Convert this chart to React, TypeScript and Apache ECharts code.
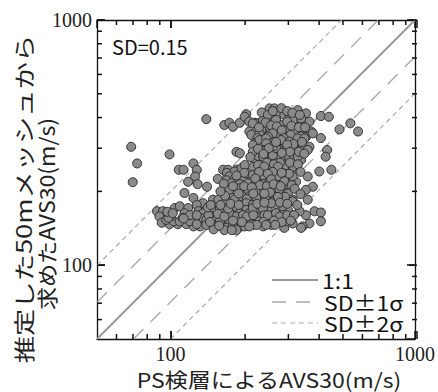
import React, { useEffect, useRef } from "react";
import * as echarts from "echarts";

// ---- data (PS logging AVS30, estimated AVS30) ----
const leftGroup: [number, number][] = [
  [69, 304], [73, 260], [70, 218], [99, 283], [108, 245], [113, 245], [114, 197],
  [124, 260], [128, 245], [126, 230], [118, 219], [129, 214], [141, 209], [124, 188],
];

const upperGroup: [number, number][] = [
  [140, 394], [166, 373], [174, 381], [180, 367], [192, 381], [204, 413], [201, 403],
  [210, 385], [221, 381], [228, 379], [239, 391], [254, 436], [266, 436], [279, 416],
  [292, 410], [306, 403], [331, 429], [358, 416], [326, 379], [347, 379], [370, 385],
  [258, 397], [270, 391], [246, 362], [288, 373], [316, 391], [217, 379], [342, 397],
  [210, 351], [221, 345], [235, 356], [258, 351], [279, 345], [297, 356], [321, 351],
  [347, 351], [358, 334], [376, 351], [214, 340], [382, 345], [231, 345], [297, 334],
  [270, 340], [321, 345], [236, 420], [250, 410], [262, 425], [284, 437], [300, 425],
  [315, 418], [338, 410], [245, 382], [258, 372], [272, 368], [300, 385], [312, 370],
  [335, 365], [355, 365], [230, 365], [262, 345], [285, 355], [310, 340], [340, 335],
  [250, 335], [227, 330], [290, 330],
];

const rightGroup: [number, number][] = [
  [412, 406], [444, 403], [491, 358], [544, 379], [585, 351], [412, 330], [437, 295],
  [431, 277], [406, 241], [455, 245], [382, 209], [388, 166], [412, 164], [412, 151],
  [370, 148], [358, 160], [364, 185], [358, 203], [364, 230],
];

const middleGroup: [number, number][] = [
  [221, 314], [231, 324], [246, 329], [258, 314], [279, 319], [306, 319], [331, 329],
  [353, 329], [217, 309], [239, 304], [288, 304], [337, 309], [246, 314], [283, 324],
  [370, 304], [186, 290], [192, 286], [224, 290], [242, 295], [258, 290], [279, 295],
  [297, 295], [326, 295], [347, 300], [364, 295], [221, 269], [235, 269], [254, 269],
  [270, 269], [297, 269], [316, 269], [342, 269], [228, 279], [283, 277], [331, 277],
  [217, 290], [239, 277], [262, 281], [306, 277], [270, 300], [316, 300], [246, 295],
  [164, 245], [172, 245], [186, 245], [195, 245], [210, 245], [221, 245], [235, 245],
  [246, 245], [266, 245], [288, 245], [306, 245], [326, 245], [170, 238], [183, 241],
  [195, 249], [217, 252], [201, 256], [258, 256], [297, 256], [316, 252], [318, 312],
  [300, 310], [262, 305], [228, 298], [345, 318], [270, 318], [252, 300], [308, 290],
  [335, 290], [285, 287], [240, 284], [212, 276], [248, 262], [280, 262], [308, 262],
  [265, 258], [228, 256], [242, 252], [275, 252], [332, 258], [352, 285],
];

const lowerMiddleGroup: [number, number][] = [
  [207, 230], [228, 237], [174, 230], [169, 222], [183, 226], [198, 222], [214, 222],
  [231, 226], [250, 226], [266, 222], [283, 226], [306, 222], [326, 219], [177, 216],
  [192, 214], [207, 216], [242, 216], [297, 214], [239, 233], [258, 233], [275, 230],
  [217, 233], [297, 233], [316, 230], [224, 219], [254, 219], [275, 212], [156, 225],
  [174, 203], [192, 206], [207, 203], [228, 200], [250, 204], [266, 206], [288, 200],
  [239, 206], [279, 203], [302, 196], [180, 188], [210, 191], [231, 185], [262, 191],
  [288, 186], [316, 185], [183, 185], [196, 191], [246, 191], [224, 188], [270, 185],
  [149, 185], [157, 185], [169, 182], [262, 182], [316, 182], [305, 236], [285, 238],
  [262, 240], [250, 236], [230, 240], [200, 238], [186, 232], [340, 240], [222, 226],
  [258, 224], [292, 220], [313, 212], [232, 212], [248, 210], [264, 214], [282, 210],
  [200, 210], [215, 208], [180, 210], [165, 215], [322, 205], [340, 195], [255, 198],
  [242, 196], [294, 190], [275, 190], [205, 186], [190, 196], [167, 192], [160, 200],
  [218, 196],
];

const bottomBand: [number, number][] = [
  [204, 179], [136, 179], [104, 171], [109, 174], [118, 171], [128, 176], [130, 166],
  [140, 168], [151, 168], [166, 168], [186, 168], [204, 168], [231, 168], [250, 168],
  [275, 174], [302, 168], [337, 166], [88, 166], [93, 166], [90, 158], [217, 176],
  [159, 171], [180, 171], [210, 163], [288, 163], [114, 163], [136, 163], [149, 158],
  [180, 160], [231, 158], [262, 160], [288, 174], [217, 171], [192, 163], [239, 171],
  [258, 179], [92, 149], [99, 147], [107, 147], [116, 147], [96, 153], [103, 151],
  [109, 151], [124, 153], [132, 151], [136, 155], [140, 153], [151, 151], [164, 155],
  [159, 151], [174, 153], [174, 163], [186, 158], [192, 151], [195, 144], [201, 144],
  [204, 151], [214, 151], [224, 158], [231, 151], [250, 151], [275, 151], [292, 142],
  [347, 144], [124, 144], [132, 144], [140, 146], [154, 144], [169, 142], [180, 144],
  [217, 146], [239, 144], [258, 146], [316, 148], [297, 151], [166, 139], [186, 139],
  [120, 151], [128, 147], [342, 142], [100, 158], [112, 156], [120, 160], [128, 160],
  [143, 160], [156, 162], [166, 158], [172, 170], [198, 160], [205, 158], [218, 160],
  [242, 160], [250, 160], [270, 163], [280, 158], [300, 160], [320, 160], [240, 150],
  [265, 152], [285, 150], [310, 152], [225, 146], [246, 146], [268, 146], [150, 140],
  [178, 139], [196, 150], [210, 144], [145, 150], [113, 155], [98, 156], [97, 165],
  [102, 163], [158, 145], [180, 152], [142, 172], [160, 176], [176, 178], [190, 176],
  [146, 176], [226, 178], [242, 180], [280, 180], [300, 178], [330, 176],
];

// reference lines (1:1, SD = 0.15 -> ±1σ factor 1.4125, ±2σ factor 1.995)
const line11: [number, number][] = [[50, 50], [1000, 1000]];
const sd1Upper: [number, number][] = [[50, 70.6], [708, 1000]];
const sd1Lower: [number, number][] = [[70.6, 50], [1000, 708]];
const sd2Upper: [number, number][] = [[50, 99.8], [501, 1000]];
const sd2Lower: [number, number][] = [[99.8, 50], [1000, 501]];

const majorTicks = [100, 1000];
const minorTicks = [60, 70, 80, 90, 200, 300, 400, 500, 600, 700, 800, 900];
const AXIS_MIN = 50;
const AXIS_MAX = 1000;

const GRID = { left: 97, top: 20, width: 320, height: 319 };
const AXIS_COLOR = "#111";
const SERIF = '"Liberation Serif", "Times New Roman", serif';
const SANS_JP = '"Noto Sans CJK JP", "Noto Sans", sans-serif';

function mainAxis(position: string) {
  const labels = position === "bottom" || position === "left";
  return {
    type: "log",
    logBase: 10,
    min: AXIS_MIN,
    max: AXIS_MAX,
    position,
    axisLine: { show: true, onZero: false, lineStyle: { color: AXIS_COLOR, width: 1.3 } },
    axisTick: { show: true, inside: true, length: 8, lineStyle: { color: AXIS_COLOR, width: 1.5 } },
    axisLabel: {
      show: labels,
      formatter: (v: number) => (v < 99 ? "" : String(Math.round(v))),
      fontFamily: SERIF,
      fontSize: 20,
      color: "#222",
      margin: 5,
      showMinLabel: false,
      showMaxLabel: true,
    },
    splitLine: { show: false },
  };
}

export default function App() {
  const ref = useRef<HTMLDivElement>(null);

  useEffect(() => {
    if (!ref.current) return;
    const chart = echarts.init(ref.current, null, { renderer: "svg" });

    const lineSeries = (data: [number, number][], color: string, width: number, dash: any) => ({
      type: "line",
      data,
      symbol: "none",
      silent: true,
      clip: true,
      lineStyle: { color, width, type: dash },
      z: 1,
    });

    // tick marks positioned with the log10 scale of the grid
    const lmin = Math.log10(AXIS_MIN);
    const lmax = Math.log10(AXIS_MAX);
    const tx = (v: number) => GRID.left + (GRID.width * (Math.log10(v) - lmin)) / (lmax - lmin);
    const ty = (v: number) => GRID.top + GRID.height * (1 - (Math.log10(v) - lmin) / (lmax - lmin));
    const x0 = GRID.left;
    const x1 = GRID.left + GRID.width;
    const y0 = GRID.top;
    const y1 = GRID.top + GRID.height;
    const seg = (ax: number, ay: number, bx: number, by: number) => ({
      type: "line",
      z: 100,
      shape: { x1: ax, y1: ay, x2: bx, y2: by },
      style: { stroke: AXIS_COLOR, lineWidth: 1.5 },
    });
    const tickEls: any[] = [];
    const addTick = (v: number, len: number) => {
      const px = tx(v);
      const py = ty(v);
      tickEls.push(seg(px, y1, px, y1 - len));
      tickEls.push(seg(px, y0, px, y0 + len));
      tickEls.push(seg(x0, py, x0 + len, py));
      tickEls.push(seg(x1, py, x1 - len, py));
    };
    majorTicks.forEach((v) => addTick(v, 8));
    minorTicks.forEach((v) => addTick(v, 5));

    const legendY = [280, 302, 323];
    const legendText = (text: string, x: number, y: number) => ({
      type: "text",
      x,
      y,
      scaleX: 1.15,
      style: {
        text,
        fontSize: 20,
        lineHeight: 20,
        fontFamily: SANS_JP,
        fill: "#111",
        verticalAlign: "middle",
      },
    });

    chart.setOption({
      animation: false,
      grid: { ...GRID, containLabel: false },
      xAxis: [mainAxis("bottom"), mainAxis("top")],
      yAxis: [mainAxis("left"), mainAxis("right")],
      series: [
        lineSeries(sd2Upper, "#aaaaaa", 1.2, [5, 4]),
        lineSeries(sd2Lower, "#aaaaaa", 1.2, [5, 4]),
        lineSeries(sd1Upper, "#aaaaaa", 1.4, [14, 10]),
        lineSeries(sd1Lower, "#aaaaaa", 1.4, [14, 10]),
        lineSeries(line11, "#999999", 2, "solid"),
        {
          type: "scatter",
          data: [
            ...leftGroup,
            ...upperGroup,
            ...rightGroup,
            ...middleGroup,
            ...lowerMiddleGroup,
            ...bottomBand,
          ],
          symbol: "circle",
          symbolSize: 9,
          itemStyle: { color: "#8a8a8a", borderColor: "#2e2e2e", borderWidth: 1, opacity: 1 },
          z: 5,
        },
      ],
      graphic: [
        ...tickEls,
        {
          type: "text",
          left: 112,
          top: 36,
          style: { text: "SD=0.15", fontSize: 20, fontFamily: SANS_JP, fill: "#111" },
        },
        {
          type: "line",
          shape: { x1: 272, y1: legendY[0], x2: 318, y2: legendY[0] },
          style: { stroke: "#999999", lineWidth: 2 },
        },
        {
          type: "line",
          shape: { x1: 272, y1: legendY[1], x2: 318, y2: legendY[1] },
          style: { stroke: "#aaaaaa", lineWidth: 1.4, lineDash: [14, 10] },
        },
        {
          type: "line",
          shape: { x1: 272, y1: legendY[2], x2: 318, y2: legendY[2] },
          style: { stroke: "#aaaaaa", lineWidth: 1.2, lineDash: [5, 4] },
        },
        legendText("1:1", 322, legendY[0]),
        legendText("SD±1σ", 324, legendY[1]),
        legendText("SD±2σ", 324, legendY[2]),
        {
          type: "text",
          x: 269,
          y: 379,
          scaleX: 1.15,
          style: {
            text: "PS検層によるAVS30(m/s)",
            fontSize: 20,
            lineHeight: 22,
            fontFamily: SANS_JP,
            fill: "#222",
            align: "center",
            verticalAlign: "middle",
          },
        },
        {
          type: "text",
          x: 23,
          y: 199,
          rotation: Math.PI / 2,
          scaleX: 1.3,
          style: {
            text: "推定した50mメッシュから",
            fontSize: 21,
            lineHeight: 22,
            fontFamily: SANS_JP,
            fill: "#222",
            align: "center",
            verticalAlign: "middle",
          },
        },
        {
          type: "text",
          x: 45,
          y: 214,
          rotation: Math.PI / 2,
          scaleX: 1.1,
          style: {
            text: "求めたAVS30(m/s)",
            fontSize: 21,
            lineHeight: 22,
            fontFamily: SANS_JP,
            fill: "#222",
            align: "center",
            verticalAlign: "middle",
          },
        },
      ],
    });

    return () => chart.dispose();
  }, []);

  return (
    <div
      ref={ref}
      style={{ position: "absolute", left: 0, top: 0, width: 438, height: 392 }}
    />
  );
}
